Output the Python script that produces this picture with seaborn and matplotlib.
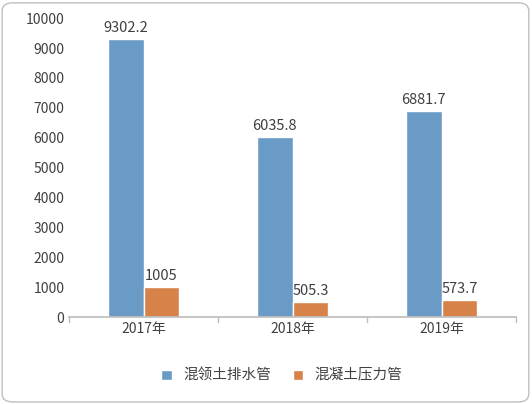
import matplotlib
matplotlib.use("Agg")
import matplotlib.pyplot as plt
import seaborn as sns
import pandas as pd
from matplotlib.patches import FancyBboxPatch

years = ["2017年", "2018年", "2019年"]
series = ["混领土排水管", "混凝土压力管"]
drain = [9302.2, 6035.8, 6881.7]
pressure = [1005, 505.3, 573.7]
labels_drain = ["9302.2", "6035.8", "6881.7"]
labels_pressure = ["1005", "505.3", "573.7"]

df = pd.DataFrame({
    "year": years * 2,
    "series": [series[0]] * 3 + [series[1]] * 3,
    "value": drain + pressure,
})

sns.set_theme(style="white")
plt.rcParams['font.family'] = ['Noto Sans CJK SC', 'DejaVu Sans']

fig = plt.figure(figsize=(5.32, 4.04), dpi=100)
fig.patches.append(FancyBboxPatch((0.004, 0.005), 0.99, 0.988, boxstyle="round,pad=0,rounding_size=0.02",
                                  transform=fig.transFigure, fill=False, edgecolor="#bfbfbf", linewidth=1))
ax = fig.add_axes([0.13, 0.215, 0.84, 0.74])
sns.barplot(data=df, x="year", y="value", hue="series", palette=["#5B9BD5", "#ED7D31"],
            width=0.48, gap=0, ax=ax, legend=True)
ax.set_ylim(0, 10000)
ax.set_yticks(range(0, 10001, 1000))
ax.set_xlim(-0.5, 2.5)
ax.set_xlabel("")
ax.set_ylabel("")
for s in ["top", "right", "left"]:
    ax.spines[s].set_visible(False)
ax.spines["bottom"].set_color("#bfbfbf")
ax.tick_params(axis="both", labelsize=10, colors="#404040", length=0)
ax.set_xticks([0, 1, 2], years)
for xb in [-0.5, 0.5, 1.5, 2.5]:
    ax.plot([xb, xb], [0, -150], color="#bfbfbf", lw=1, clip_on=False)
for cont, labs in zip(ax.containers, [labels_drain, labels_pressure]):
    ax.bar_label(cont, labels=labs, padding=3, fontsize=10.5, color="#404040")
h, l = ax.get_legend_handles_labels()
ax.legend_.remove()
fig.legend(h, l, loc="center", bbox_to_anchor=(0.53, 0.07), ncol=2, frameon=False,
           fontsize=10.5, handlelength=0.7, handleheight=0.7, columnspacing=1.5, labelcolor="#404040")
fig.savefig("out.png", dpi=100)
